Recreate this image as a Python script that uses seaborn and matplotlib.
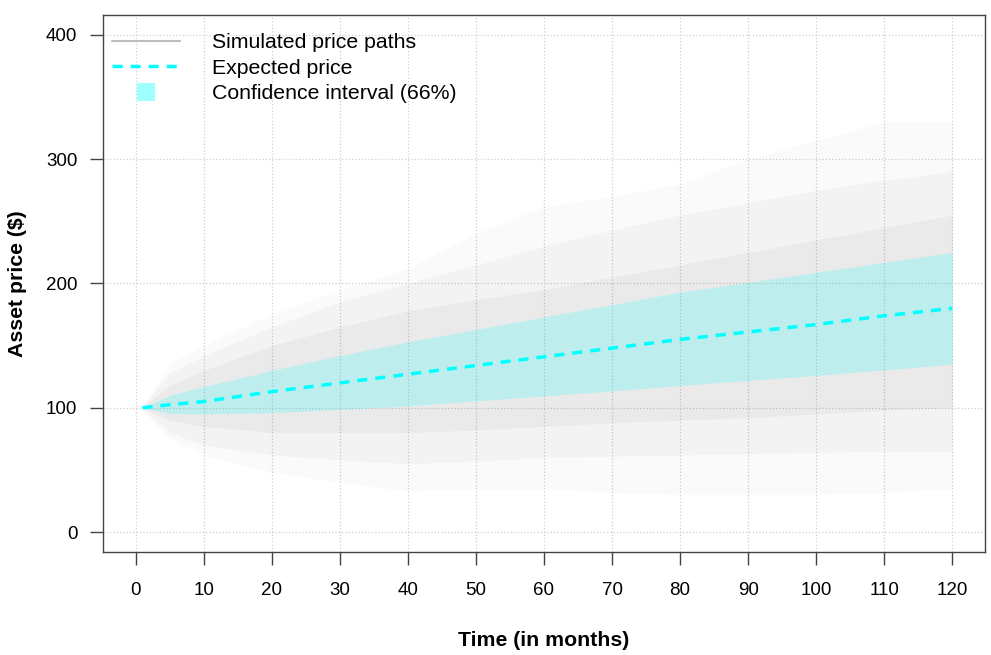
import numpy as np
import pandas as pd
import matplotlib
matplotlib.use("Agg")
import matplotlib.pyplot as plt
import seaborn as sns
from matplotlib.lines import Line2D
from matplotlib.patches import Patch, Rectangle
from matplotlib.legend_handler import HandlerPatch

# ---- data ----
months = [1, 5, 10, 20, 30, 40, 50, 60, 70, 80, 90, 100, 110, 120]
expected = [100, 102.5, 105, 113, 120, 127, 134, 141, 148, 155, 161, 167, 174, 180]
ci_upper = [100, 110, 117, 130, 142, 153, 163, 173, 183, 193, 201, 209, 217, 225]
ci_lower = [100, 95.5, 95, 96, 98.5, 101.5, 105.5, 109.5, 113.5, 118, 122, 126, 130.5, 135]

# envelope of the simulated price paths (faint outer, medium, dense inner)
outer_top = [101, 135, 150, 175, 195, 212, 240, 262, 270, 280, 300, 315, 330, 330]
outer_bot = [99, 75, 62, 48, 40, 33, 35, 35, 32, 30, 30, 30, 32, 35]
mid_top = [101, 128, 142, 165, 185, 200, 215, 230, 243, 255, 265, 275, 283, 290]
mid_bot = [99, 80, 70, 62, 58, 55, 57, 60, 61, 62, 63, 64, 65, 65]
inner_top = [100.5, 118, 130, 150, 165, 178, 187, 195, 205, 215, 225, 235, 245, 255]
inner_bot = [99.5, 90, 85, 80, 80, 80, 82, 85, 88, 90, 92, 95, 98, 100]

x_ticks = list(range(0, 121, 10))
y_ticks = list(range(0, 401, 100))
legend_labels = ["Simulated price paths", "Expected price", "Confidence interval (66%)"]

# ---- style ----
sns.set_style("white")
plt.rcParams["font.family"] = ["Liberation Sans", "DejaVu Sans"]
plt.rcParams["text.color"] = "black"
plt.rcParams["xtick.color"] = "black"
plt.rcParams["ytick.color"] = "black"
FS_TICK = 13.5
FS_TEXT = 15.3

fig = plt.figure(figsize=(9.91, 6.55), dpi=100)
ax = fig.add_axes([0.1039, 0.1573, 0.8900, 0.8198])

df = pd.DataFrame({
    "month": months, "expected": expected, "ci_upper": ci_upper, "ci_lower": ci_lower,
    "outer_top": outer_top, "outer_bot": outer_bot, "mid_top": mid_top,
    "mid_bot": mid_bot, "inner_top": inner_top, "inner_bot": inner_bot,
})

# simulated paths cloud
for lo, hi, a in [("outer_bot", "outer_top", 0.018),
                  ("mid_bot", "mid_top", 0.026),
                  ("inner_bot", "inner_top", 0.036)]:
    ax.fill_between(df["month"], df[lo], df[hi], color="black", alpha=a, lw=0)

# confidence band
ax.fill_between(df["month"], df["ci_lower"], df["ci_upper"], color="cyan", alpha=0.19, lw=0)

# expected price
sns.lineplot(data=df, x="month", y="expected", ax=ax, color="cyan", lw=2.5)
ax.lines[-1].set_dashes([2.9, 2.3])

# axes
ax.set_xlim(-4.8, 124.8)
ax.set_ylim(-16, 416)
ax.set_xticks(x_ticks)
ax.set_yticks(y_ticks)
ax.tick_params(axis="both", direction="out", length=9.4, width=1, color="#444444",
               labelsize=FS_TICK, labelcolor="black", left=True, bottom=True)
ax.tick_params(axis="x", pad=12.5)
ax.tick_params(axis="y", pad=9)
ax.grid(True, linestyle=":", color="#d0d0d0", lw=0.9)
ax.set_axisbelow(True)
for s in ax.spines.values():
    s.set_visible(True)
    s.set_color("#444444")
    s.set_linewidth(1.0)

ax.set_xlabel("Time (in months)", fontsize=FS_TEXT, fontweight="bold", color="black")
ax.set_ylabel("Asset price ($)", fontsize=FS_TEXT, fontweight="bold", color="black")
ax.xaxis.set_label_coords(0.5, -0.147)
ax.yaxis.set_label_coords(-0.0862, 0.5)

# legend
def square_patch(legend, orig_handle, xdescent, ydescent, width, height, fontsize):
    s = 13
    return Rectangle((width / 2 - s / 2 - xdescent, height / 2 - s / 2 - ydescent), s, s)

handles = [
    Line2D([], [], color="#bdbdbd", lw=1.5),
    Line2D([], [], color="cyan", lw=2.5, dashes=[2.9, 2.3]),
    Patch(facecolor="#a0ffff", edgecolor="none"),
]
ax.legend(handles, legend_labels, loc="upper left", bbox_to_anchor=(0.0102, 0.966),
          frameon=False, fontsize=FS_TEXT, handlelength=3.2, handletextpad=1.5,
          labelspacing=0.3, borderpad=0, borderaxespad=0,
          handler_map={Patch: HandlerPatch(patch_func=square_patch)})

fig.savefig("out.png", dpi=100)
